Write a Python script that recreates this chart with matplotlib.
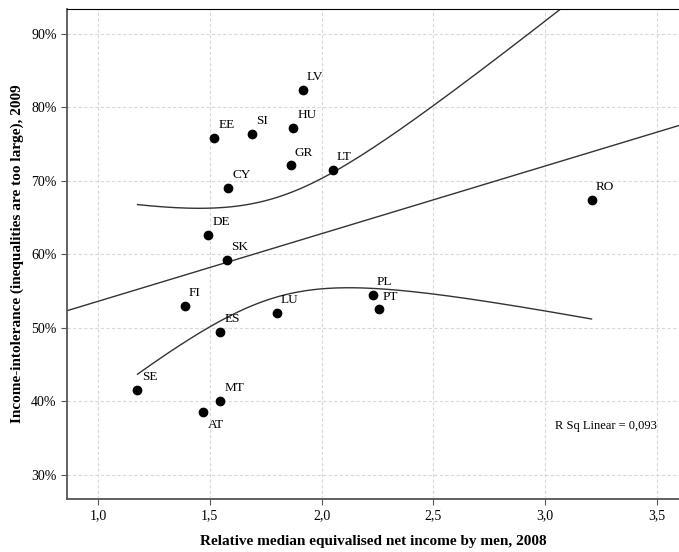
import numpy as np
import matplotlib
matplotlib.use("Agg")
import matplotlib.pyplot as plt

# countries and values
countries = ["LV", "HU", "EE", "SI", "GR", "LT", "CY", "DE", "SK", "RO",
             "FI", "ES", "LU", "SE", "MT", "AT", "PL", "PT"]
income_ratio = [1.915, 1.873, 1.521, 1.689, 1.862, 2.049, 1.582, 1.494, 1.579, 3.207,
                1.388, 1.546, 1.799, 1.177, 1.546, 1.472, 2.229, 2.256]
intolerance = [82.4, 77.2, 75.9, 76.35, 72.1, 71.5, 69.1, 62.7, 59.3, 67.4,
               53.0, 49.5, 52.0, 41.6, 40.0, 38.5, 54.5, 52.5]

xticks = [1.0, 1.5, 2.0, 2.5, 3.0, 3.5]
yticks = [30, 40, 50, 60, 70, 80, 90]

plt.rcParams['font.family'] = ['Liberation Serif', 'DejaVu Serif']

x = np.array(income_ratio)
y = np.array(intolerance)
n = len(x)

# linear fit and 95% confidence band for the mean
slope, icpt = np.polyfit(x, y, 1)
resid = y - (slope * x + icpt)
s = np.sqrt(np.sum(resid ** 2) / (n - 2))
t_crit = 2.120  # t(0.975, 16)
sxx = np.sum((x - x.mean()) ** 2)

fig = plt.figure(figsize=(6.79, 5.52), dpi=100)
ax = fig.add_axes([0.0987, 0.096, 0.9013, 0.8877])

xlim = (0.862, 3.598)
ylim = (26.7, 93.4)

xl = np.linspace(xlim[0], xlim[1], 200)
ax.plot(xl, slope * xl + icpt, color='#333333', lw=1)

xb = np.linspace(x.min(), x.max(), 200)
half = t_crit * s * np.sqrt(1 / n + (xb - x.mean()) ** 2 / sxx)
ax.plot(xb, slope * xb + icpt + half, color='#333333', lw=1)
ax.plot(xb, slope * xb + icpt - half, color='#333333', lw=1)

ax.scatter(x, y, s=36, color='black', zorder=3)

for c, xi, yi in zip(countries, x, y):
    below = c == "AT"
    ax.annotate(c, (xi, yi), xytext=(3, -5 if below else 5), textcoords='offset points',
                fontsize=9.5, va='top' if below else 'bottom', ha='left')

ax.text(3.045, 36.6, "R Sq Linear = 0,093", fontsize=9, ha='left', va='center')

ax.set_xlim(*xlim)
ax.set_ylim(*ylim)
ax.set_xticks(xticks)
ax.set_xticklabels([f"{v:.1f}".replace('.', ',') for v in xticks], fontsize=10)
ax.set_yticks(yticks)
ax.set_yticklabels([f"{v}%" for v in yticks], fontsize=10)

ax.grid(True, color='#d8d8d8', linestyle=(0, (3, 2)), lw=0.8)
ax.set_axisbelow(True)

ax.spines['right'].set_visible(False)
ax.spines['top'].set_color('black')
ax.spines['left'].set_color('#555555')
ax.spines['bottom'].set_color('#555555')
ax.spines['left'].set_linewidth(1.3)
ax.spines['bottom'].set_linewidth(1.3)
ax.tick_params(direction='out', length=4, color='#555555')

ax.set_xlabel("Relative median equivalised net income by men, 2008",
              fontsize=11, fontweight='bold', labelpad=9)
ax.set_ylabel("Income-intolerance (inequalities are too large), 2009",
              fontsize=11, fontweight='bold', labelpad=5)

fig.savefig("out.png", dpi=100)
